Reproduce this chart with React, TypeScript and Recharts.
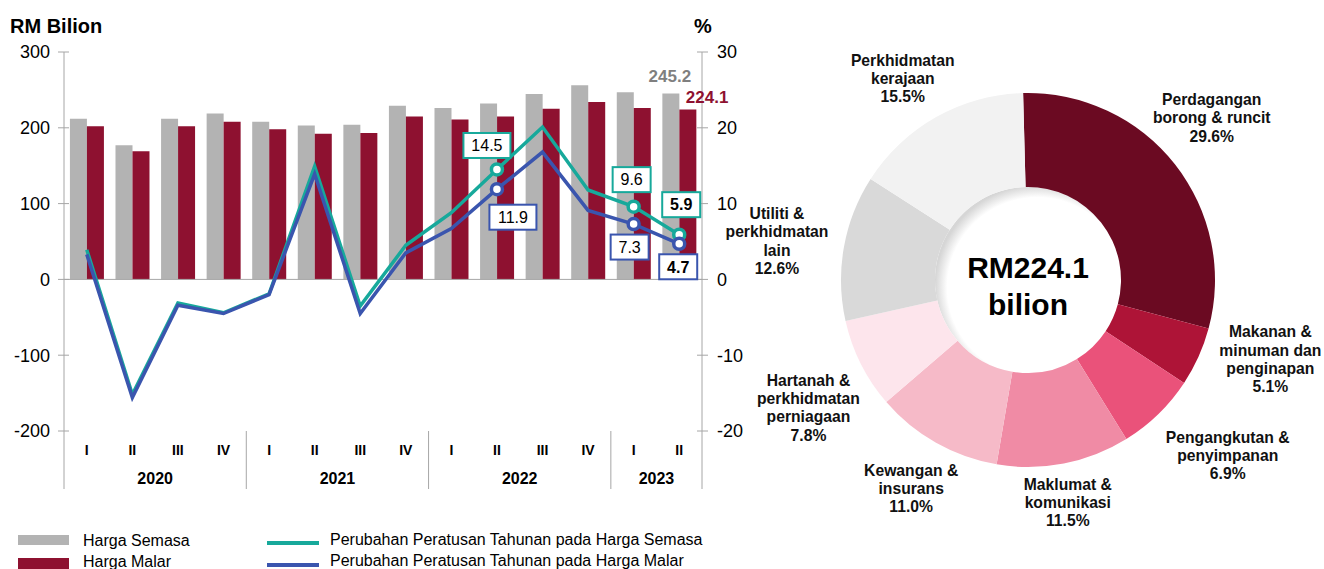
import React from 'react';
import {
  ComposedChart,
  Bar,
  Line,
  XAxis,
  YAxis,
  ReferenceLine,
  LabelList,
  PieChart,
  Pie,
  Cell,
} from 'recharts';

// ---------- data ----------
const quarters = ['I', 'II', 'III', 'IV', 'I', 'II', 'III', 'IV', 'I', 'II', 'III', 'IV', 'I', 'II'];
const years = ['2020', '2020', '2020', '2020', '2021', '2021', '2021', '2021', '2022', '2022', '2022', '2022', '2023', '2023'];
const hargaSemasa = [212, 177, 212, 219, 208, 203, 204, 229, 226, 232, 244.5, 256, 247, 245.2];
const hargaMalar = [202, 169, 202, 208, 198, 192, 193, 215, 211, 215, 225, 234, 226, 224.1];
const pctSemasa = [3.9, -15.2, -3.1, -4.4, -1.9, 14.9, -3.5, 4.5, 8.8, 14.5, 20.1, 11.8, 9.6, 5.9];
const pctMalar = [3.3, -15.6, -3.4, -4.5, -2.0, 13.9, -4.5, 3.5, 6.7, 11.9, 16.8, 9.1, 7.3, 4.7];
const highlightedIdx = [9, 12, 13];

const leftTicks = [-200, -100, 0, 100, 200, 300];
const rightTicks = [-20, -10, 0, 10, 20, 30];

const sectorNames = [
  ['Perdagangan', 'borong & runcit'],
  ['Makanan &', 'minuman dan', 'penginapan'],
  ['Pengangkutan &', 'penyimpanan'],
  ['Maklumat &', 'komunikasi'],
  ['Kewangan &', 'insurans'],
  ['Hartanah &', 'perkhidmatan', 'perniagaan'],
  ['Utiliti &', 'perkhidmatan', 'lain'],
  ['Perkhidmatan', 'kerajaan'],
];
const sectorShares = [29.6, 5.1, 6.9, 11.5, 11.0, 7.8, 12.6, 15.5];
const totalLabel = ['RM224.1', 'bilion'];

const legendLabels = [
  'Harga Semasa',
  'Harga Malar',
  'Perubahan Peratusan Tahunan pada Harga Semasa',
  'Perubahan Peratusan Tahunan pada Harga Malar',
];

// ---------- styles ----------
const FONT = '"Liberation Sans", Arial, Helvetica, sans-serif';
const GRAY = '#B3B3B3';
const MAROON = '#8E1130';
const TEAL = '#17A99B';
const BLUE = '#3A55AE';
const AXIS = '#A6A6A6';
const sectorColors = ['#6B0A22', '#AE1437', '#EA527A', '#F08BA5', '#F6BAC8', '#FDE5EC', '#D9D9D9', '#F2F2F2'];
const labelPlacement = [
  { r: 245, da: 3.2 },
  { r: 255, da: 6.1 },
  { r: 266, da: 4.5 },
  { r: 226, da: -0.9 },
  { r: 239, da: 0.2 },
  { r: 254, da: 3.5 },
  { r: 254, da: 1.2 },
  { r: 237, da: 2.5 },
];

const CHART_W = 760;
const CHART_H = 500;
const MARGIN = { top: 52, right: 0, bottom: 9, left: 0 };
const LEFT_AXIS_W = 64;
const RIGHT_AXIS_W = 58;
const X_AXIS_H = 60;
const PLOT_LEFT = MARGIN.left + LEFT_AXIS_W;
const PLOT_RIGHT = CHART_W - MARGIN.right - RIGHT_AXIS_W;
const PLOT_BOTTOM = CHART_H - MARGIN.bottom - X_AXIS_H;
const BAND = (PLOT_RIGHT - PLOT_LEFT) / quarters.length;

const PIE_LEFT = 712;
const PIE_W = 1324 - PIE_LEFT;
const PIE_CX = 1028 - PIE_LEFT;
const PIE_CY = 280;

const data = quarters.map((q, i) => ({
  key: `${years[i]}-${q}`,
  semasa: hargaSemasa[i],
  malar: hargaMalar[i],
  pSemasa: pctSemasa[i],
  pMalar: pctMalar[i],
}));

const pieData = sectorShares.map((v, i) => ({ name: sectorNames[i].join(' '), value: v }));

// ---------- renderers ----------
const LeftTick = (props: any) => {
  const { x, y, payload } = props;
  return (
    <g>
      <line x1={PLOT_LEFT} x2={PLOT_LEFT + 5} y1={y} y2={y} stroke={AXIS} />
      <text x={x} y={y} dy="0.36em" textAnchor="end" fontFamily={FONT} fontSize={18} fill="#000">
        {payload.value}
      </text>
    </g>
  );
};

const RightTick = (props: any) => {
  const { x, y, payload } = props;
  return (
    <g>
      <line x1={PLOT_RIGHT - 5} x2={PLOT_RIGHT} y1={y} y2={y} stroke={AXIS} />
      <text x={x} y={y} dy="0.36em" textAnchor="start" fontFamily={FONT} fontSize={18} fill="#000">
        {payload.value}
      </text>
    </g>
  );
};

const QuarterTick = (props: any) => {
  const { x, payload } = props;
  const i: number = payload?.index ?? props.index ?? 0;
  const items: React.ReactNode[] = [];
  items.push(
    <text key="q" x={x} y={PLOT_BOTTOM + 24} textAnchor="middle" fontFamily={FONT} fontSize={14} fontWeight="bold" fill="#000">
      {quarters[i]}
    </text>
  );
  const first = i === 0 || years[i] !== years[i - 1];
  if (first) {
    const n = years.filter((y) => y === years[i]).length;
    items.push(
      <line key="s" x1={x - BAND / 2} x2={x - BAND / 2} y1={PLOT_BOTTOM} y2={PLOT_BOTTOM + 58} stroke={AXIS} />
    );
    items.push(
      <text key="y" x={x + ((n - 1) / 2) * BAND} y={PLOT_BOTTOM + 53} textAnchor="middle" fontFamily={FONT} fontSize={16} fontWeight="bold" fill="#000">
        {years[i]}
      </text>
    );
  }
  if (i === quarters.length - 1) {
    items.push(
      <line key="e" x1={x + BAND / 2} x2={x + BAND / 2} y1={PLOT_BOTTOM} y2={PLOT_BOTTOM + 58} stroke={AXIS} />
    );
  }
  return <g>{items}</g>;
};

const boxOffsets: Record<string, Record<number, [number, number]>> = {
  semasa: { 9: [-10, -24], 12: [-2, -27], 13: [2, -30] },
  malar: { 9: [16, 28], 12: [-4, 23], 13: [-1, 23] },
};

const makeBoxLabel = (series: string, color: string) => (props: any) => {
  const idx: number = props.index;
  const off = boxOffsets[series][idx];
  if (!off) return null;
  const px = props.viewBox?.x ?? props.x;
  const py = props.viewBox?.y ?? props.y;
  const txt = Number(props.value).toFixed(1);
  const w = txt.length * 9 + 11;
  const h = 25;
  const cx = px + off[0];
  const cy = py + off[1];
  const bold = idx === quarters.length - 1;
  return (
    <g key={`box-${series}-${idx}`}>
      <rect x={cx - w / 2} y={cy - h / 2} width={w} height={h} fill="#fff" stroke={color} strokeWidth={2} />
      <text x={cx} y={cy} dy="0.36em" textAnchor="middle" fontFamily={FONT} fontSize={16} fontWeight={bold ? 'bold' : 'normal'} fill="#000">
        {txt}
      </text>
    </g>
  );
};

const makeDot = (color: string) => (props: any) => {
  const { cx, cy, index } = props;
  if (!highlightedIdx.includes(index)) return <g key={`nd-${color}-${index}`} />;
  return <circle key={`d-${color}-${index}`} cx={cx} cy={cy} r={5.5} fill="#fff" stroke={color} strokeWidth={3.5} />;
};

const lastBarLabel = (color: string, anchor: 'middle' | 'start', dy: number) => (props: any) => {
  if (props.index !== quarters.length - 1) return null;
  const vb = props.viewBox || props;
  const x = anchor === 'middle' ? vb.x + vb.width / 2 - 1 : vb.x + vb.width / 2 - 2;
  return (
    <text key={`bl-${color}`} x={x} y={vb.y + dy} textAnchor={anchor} fontFamily={FONT} fontSize={17} fontWeight="bold" fill={color}>
      {Number(props.value).toFixed(1)}
    </text>
  );
};

const RADIAN = Math.PI / 180;
const renderSectorLabel = (props: any) => {
  const { cx, cy, midAngle, index } = props;
  const pl = labelPlacement[index];
  const a = (midAngle + pl.da) * RADIAN;
  const x = cx + pl.r * Math.cos(a);
  const y = cy - pl.r * Math.sin(a);
  const lines = [...sectorNames[index], `${sectorShares[index].toFixed(1)}%`];
  const lh = 18.3;
  const y0 = y - ((lines.length - 1) / 2) * lh + 5.4;
  return (
    <text key={`sl-${index}`} x={x} y={y0} textAnchor="middle" fontFamily={FONT} fontSize={15.7} fontWeight="bold" fill="#111">
      {lines.map((l, j) => (
        <tspan key={j} x={x} y={y0 + j * lh}>
          {l}
        </tspan>
      ))}
    </text>
  );
};

const renderCenterLabel = (props: any) => {
  const { cx, cy } = props;
  return (
    <g key="center">
      <text x={cx} y={cy - 2} textAnchor="middle" fontFamily={FONT} fontSize={30} fontWeight="bold" fill="#000">
        {totalLabel[0]}
      </text>
      <text x={cx} y={cy + 35} textAnchor="middle" fontFamily={FONT} fontSize={30} fontWeight="bold" fill="#000">
        {totalLabel[1]}
      </text>
    </g>
  );
};

export default function App() {
  return (
    <div style={{ position: 'absolute', left: 0, top: 0, width: 1324, height: 569, background: '#fff', fontFamily: FONT, overflow: 'hidden' }}>
      {/* titles */}
      <div style={{ position: 'absolute', left: 10, top: 14, fontSize: 20, fontWeight: 'bold', lineHeight: '24px' }}>RM Bilion</div>
      <div style={{ position: 'absolute', left: 694, top: 14, fontSize: 20, fontWeight: 'bold', lineHeight: '24px' }}>%</div>

      {/* bar + line chart */}
      <div style={{ position: 'absolute', left: 0, top: 0 }}>
        <ComposedChart width={CHART_W} height={CHART_H} data={data} margin={MARGIN} barCategoryGap="13%" barGap={0}>
          <XAxis dataKey="key" interval={0} axisLine={false} tickLine={false} height={X_AXIS_H} tick={<QuarterTick />} />
          <YAxis
            yAxisId="left"
            orientation="left"
            width={LEFT_AXIS_W}
            domain={[-200, 300]}
            ticks={leftTicks}
            interval={0}
            axisLine={{ stroke: AXIS }}
            tickLine={{ stroke: AXIS }}
            tickSize={6}
            tickMargin={8}
            tick={<LeftTick />}
          />
          <YAxis
            yAxisId="right"
            orientation="right"
            width={RIGHT_AXIS_W}
            domain={[-20, 30]}
            ticks={rightTicks}
            interval={0}
            axisLine={{ stroke: AXIS }}
            tickLine={{ stroke: AXIS }}
            tickSize={6}
            tickMargin={9}
            tick={<RightTick />}
          />
          <ReferenceLine yAxisId="left" y={0} stroke={AXIS} />
          <Bar yAxisId="left" dataKey="semasa" fill={GRAY} isAnimationActive={false}>
            <LabelList dataKey="semasa" content={lastBarLabel('#7F7F7F', 'middle', -12)} />
          </Bar>
          <Bar yAxisId="left" dataKey="malar" fill={MAROON} isAnimationActive={false}>
            <LabelList dataKey="malar" content={lastBarLabel(MAROON, 'start', -7)} />
          </Bar>
          <Line
            yAxisId="right"
            type="linear"
            dataKey="pSemasa"
            stroke={TEAL}
            strokeWidth={3.5}
            dot={makeDot(TEAL)}
            activeDot={false}
            isAnimationActive={false}
          >
            <LabelList dataKey="pSemasa" content={makeBoxLabel('semasa', TEAL)} />
          </Line>
          <Line
            yAxisId="right"
            type="linear"
            dataKey="pMalar"
            stroke={BLUE}
            strokeWidth={3.5}
            dot={makeDot(BLUE)}
            activeDot={false}
            isAnimationActive={false}
          >
            <LabelList dataKey="pMalar" content={makeBoxLabel('malar', BLUE)} />
          </Line>
        </ComposedChart>
      </div>

      {/* legend */}
      <svg style={{ position: 'absolute', left: 0, top: 520 }} width={712} height={49}>
        <defs>
          <radialGradient id="holeShade" cx="55%" cy="54%" r="55%">
            <stop offset="88%" stopColor="#ffffff" />
            <stop offset="100%" stopColor="#d6d6d6" />
          </radialGradient>
        </defs>
        <rect x={18} y={15} width={51} height={10} fill={GRAY} />
        <rect x={18} y={38} width={51} height={11} fill={MAROON} />
        <text x={83} y={20} dy="0.36em" fontFamily={FONT} fontSize={16} fill="#000">{legendLabels[0]}</text>
        <text x={83} y={41} dy="0.36em" fontFamily={FONT} fontSize={16} fill="#000">{legendLabels[1]}</text>
        <line x1={267} x2={319} y1={23} y2={23} stroke={TEAL} strokeWidth={4} />
        <line x1={267} x2={319} y1={45} y2={45} stroke={BLUE} strokeWidth={4} />
        <text x={330} y={19} dy="0.36em" fontFamily={FONT} fontSize={16} fill="#000">{legendLabels[2]}</text>
        <text x={330} y={40} dy="0.36em" fontFamily={FONT} fontSize={16} fill="#000">{legendLabels[3]}</text>
      </svg>

      {/* donut */}
      <div style={{ position: 'absolute', left: PIE_LEFT, top: 0 }}>
        <PieChart width={PIE_W} height={569} margin={{ top: 0, right: 0, bottom: 0, left: 0 }}>
          <Pie
            data={[{ name: 'hole', value: 1 }]}
            dataKey="value"
            cx={PIE_CX}
            cy={PIE_CY}
            innerRadius={0}
            outerRadius={93}
            fill="url(#holeShade)"
            stroke="none"
            label={renderCenterLabel}
            labelLine={false}
            isAnimationActive={false}
          />
          <Pie
            data={pieData}
            dataKey="value"
            cx={PIE_CX}
            cy={PIE_CY}
            innerRadius={93}
            outerRadius={187}
            startAngle={91.5}
            endAngle={-268.5}
            stroke="none"
            label={renderSectorLabel}
            labelLine={false}
            isAnimationActive={false}
          >
            {pieData.map((d, i) => (
              <Cell key={d.name} fill={sectorColors[i]} />
            ))}
          </Pie>
        </PieChart>
      </div>
    </div>
  );
}
